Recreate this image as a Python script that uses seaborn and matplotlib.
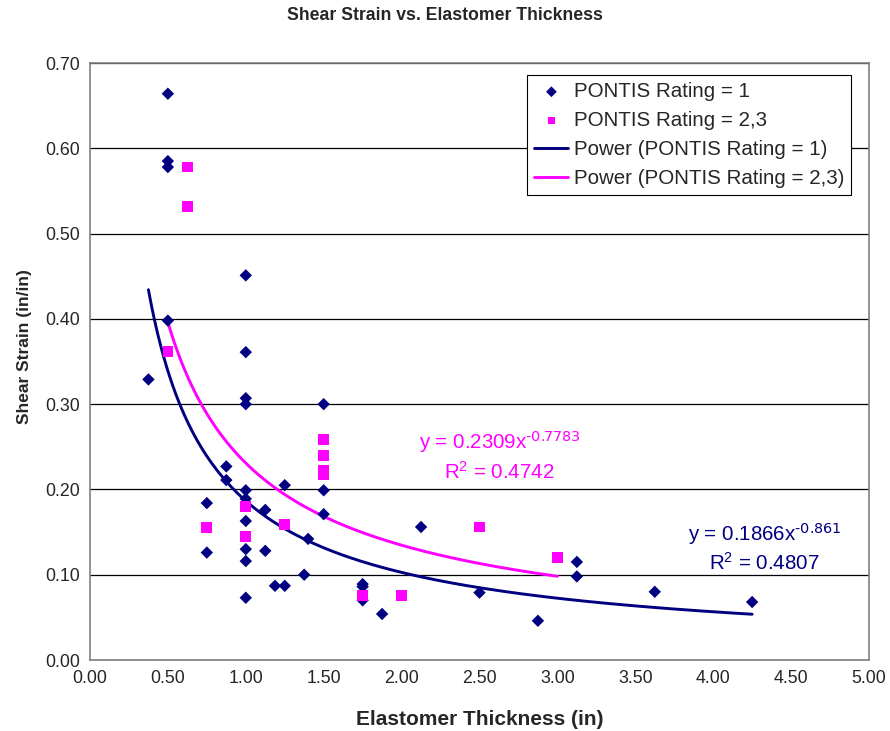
import numpy as np
import pandas as pd
import matplotlib
matplotlib.use('Agg')
import matplotlib.pyplot as plt
import seaborn as sns

# Data
r1_thickness = [0.375, 0.5, 0.5, 0.5, 0.5, 0.75, 0.75, 0.875, 0.875,
                1.0, 1.0, 1.0, 1.0, 1.0, 1.0, 1.0, 1.0, 1.0, 1.0,
                1.125, 1.125, 1.1875, 1.25, 1.25, 1.375, 1.4,
                1.5, 1.5, 1.5, 1.75, 1.75, 1.75, 1.875, 2.125, 2.5,
                2.875, 3.125, 3.125, 3.625, 4.25]
r1_strain = [0.329, 0.664, 0.585, 0.578, 0.398, 0.184, 0.126, 0.227, 0.211,
             0.451, 0.361, 0.307, 0.300, 0.199, 0.189, 0.163, 0.130, 0.116, 0.073,
             0.176, 0.128, 0.087, 0.205, 0.087, 0.100, 0.142,
             0.300, 0.199, 0.171, 0.089, 0.086, 0.070, 0.054, 0.156, 0.079,
             0.046, 0.115, 0.098, 0.080, 0.068]

r23_thickness = [0.5, 0.625, 0.625, 0.75, 1.0, 1.0, 1.25,
                 1.5, 1.5, 1.5, 1.5, 1.75, 2.0, 2.5, 3.0]
r23_strain = [0.362, 0.578, 0.532, 0.155, 0.180, 0.145, 0.159,
              0.259, 0.240, 0.222, 0.217, 0.076, 0.076, 0.156, 0.120]

# Power trendlines as reported on the chart
fit1_a, fit1_b = 0.1866, -0.861
fit23_a, fit23_b = 0.2309, -0.7783

navy = '#000080'
magenta = '#FF00FF'

lab1 = 'PONTIS Rating = 1'
lab23 = 'PONTIS Rating = 2,3'

x1 = np.linspace(min(r1_thickness), max(r1_thickness), 200)
x23 = np.linspace(min(r23_thickness), max(r23_thickness), 200)

sns.set_style('white')
plt.rcParams['font.family'] = ['Liberation Sans', 'DejaVu Sans']
plt.rcParams['mathtext.default'] = 'regular'

fig = plt.figure(figsize=(8.9, 7.31), dpi=100)
ax = fig.add_axes([0.1011, 0.0971, 0.8753, 0.8167])

sns.lineplot(x=x1, y=fit1_a * x1 ** fit1_b, color=navy, linewidth=2.1,
             label='Power (' + lab1 + ')', ax=ax, zorder=2)
sns.lineplot(x=x23, y=fit23_a * x23 ** fit23_b, color=magenta, linewidth=2.1,
             label='Power (' + lab23 + ')', ax=ax, zorder=2)
sns.scatterplot(x=r1_thickness, y=r1_strain, marker='D', color=navy, s=40,
                edgecolor='none', label=lab1, ax=ax, zorder=3)
sns.scatterplot(x=r23_thickness, y=r23_strain, marker='s', color=magenta, s=60,
                edgecolor='none', label=lab23, ax=ax, zorder=3)

ax.set_xlim(0, 5)
ax.set_ylim(0, 0.7)
xt = np.arange(0, 5.01, 0.5)
yt = np.arange(0, 0.701, 0.1)
ax.set_xticks(xt)
ax.set_yticks(yt)
ax.set_xticklabels([f'{v:.2f}' for v in xt], fontsize=12.8)
ax.set_yticklabels([f'{v:.2f}' for v in yt], fontsize=12.8)
ax.tick_params(axis='both', direction='out', length=4, color='#808080', width=1, pad=3)
ax.yaxis.grid(True, color='black', linewidth=0.9)
ax.set_axisbelow(True)
for s in ax.spines.values():
    s.set_color('#808080')
    s.set_linewidth(1.2)

ax.set_xlabel('Elastomer Thickness (in)', fontsize=15, fontweight='bold', labelpad=17)
ax.set_ylabel('Shear Strain (in/in)', fontsize=12.5, fontweight='bold')
ax.yaxis.set_label_coords(-0.074, 0.525)
fig.suptitle('Shear Strain vs. Elastomer Thickness', x=0.5, y=0.99, fontsize=12.7, fontweight='bold')

# Legend in Excel order
h, l = ax.get_legend_handles_labels()
lookup = dict(zip(l, h))
order = [lab1, lab23, 'Power (' + lab1 + ')', 'Power (' + lab23 + ')']
leg = ax.legend([lookup[k] for k in order], order, loc='upper right',
                bbox_to_anchor=(0.977, 0.98), fontsize=14.8, frameon=True,
                fancybox=False, edgecolor='black', framealpha=1,
                handlelength=1.65, handletextpad=0.25, borderpad=0.35,
                labelspacing=0.48, borderaxespad=0)
leg.get_frame().set_linewidth(0.8)
for hd in leg.legend_handles[:2]:
    hd.set_sizes([30])

ax.text(2.63, 0.240, 'y = 0.2309x$^{\\text{-0.7783}}$\nR$^2$ = 0.4742', color=magenta,
        fontsize=14.8, ha='center', va='center', linespacing=1.3)
ax.text(4.33, 0.1325, 'y = 0.1866x$^{\\text{-0.861}}$\nR$^2$ = 0.4807', color=navy,
        fontsize=14.8, ha='center', va='center', linespacing=1.3)

fig.savefig('out.png', dpi=100)
plt.close(fig)
